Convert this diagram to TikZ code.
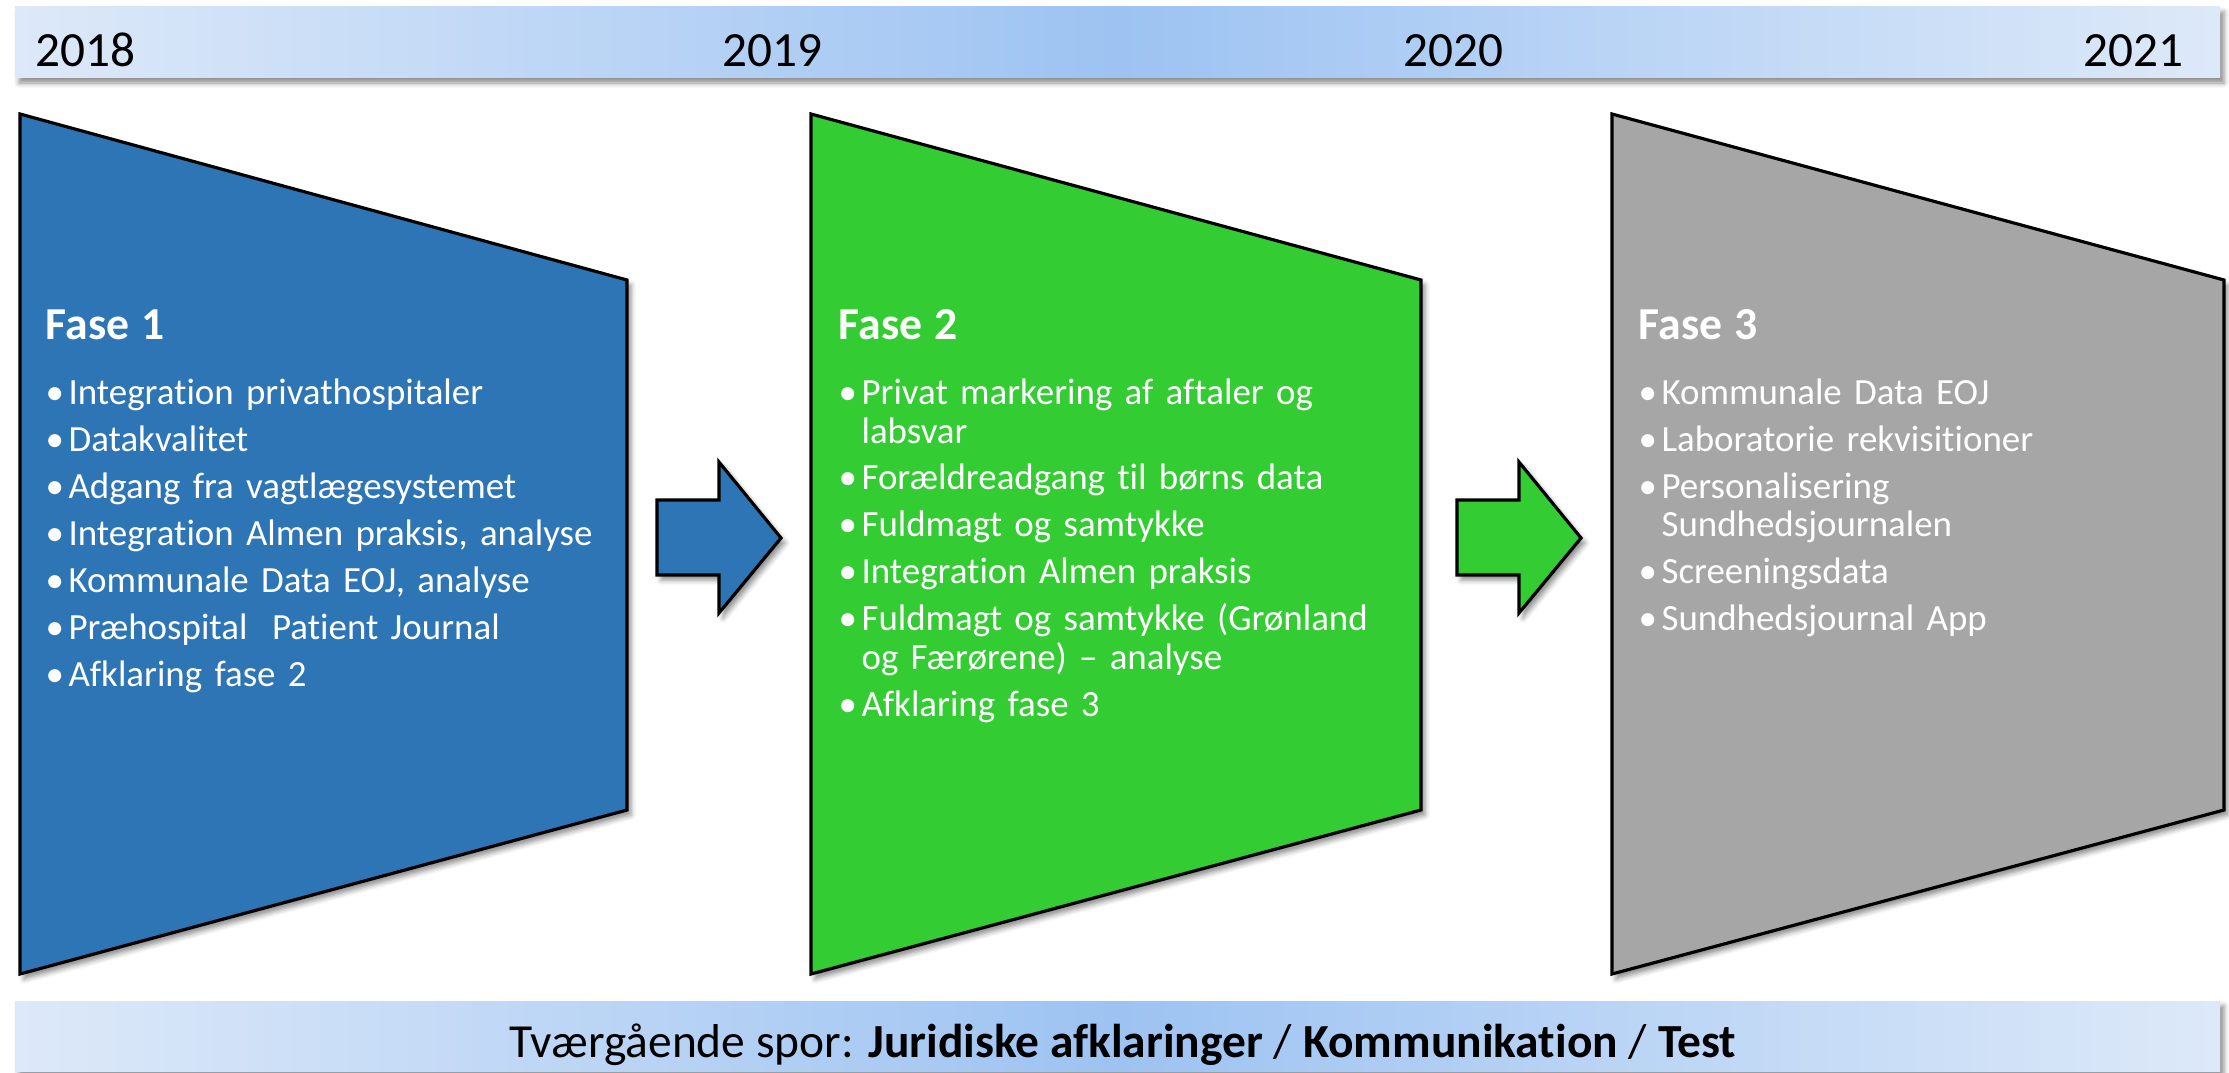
\documentclass[tikz,border=0pt]{standalone}
\usepackage{fontspec}
\setmainfont{Carlito}[Ligatures={TeX,NoCommon}]
\usepackage{xcolor}
\usetikzlibrary{shapes, arrows.meta, positioning, shadows.blur}

\definecolor{fasebla}{HTML}{2E75B6}
\definecolor{fasegron}{HTML}{33CC33}
\definecolor{fasegra}{HTML}{A6A6A6}
\definecolor{bjaelkelys}{HTML}{DDE9F9}
\definecolor{bjaelkemork}{HTML}{9DC3F2}

\newcommand{\punkt}[1]{\par\hangindent=6.5pt\hangafter=1\noindent\makebox[6.5pt][l]{\textbullet}#1}
\newcommand{\fasetitel}[1]{\setlength{\parskip}{2.4pt}{\fontsize{13}{15}\selectfont\bfseries #1\par}\vspace{5pt}}

\begin{document}
\begin{tikzpicture}[x=0.01cm, y=-0.01cm,
    skygge/.style={blur shadow={shadow xshift=0.04cm, shadow yshift=-0.05cm, shadow blur radius=0.05cm, shadow opacity=45}},
    fase/.style={draw=black, line width=0.9pt, line join=miter, skygge},
    pil/.style={draw=black, line width=0.9pt, line join=miter, skygge},
    bjaelke/.style={left color=bjaelkelys, right color=bjaelkelys, middle color=bjaelkemork, skygge},
    aar/.style={font=\fontsize{14}{17}\selectfont, anchor=base west, inner sep=0pt},
    tekst/.style={text=white, anchor=base west, text width=6cm, align=left, inner sep=0pt,
                  font=\fontsize{10.5}{10.95}\selectfont}]
    \useasboundingbox (0,0) rectangle (2229,1073);

    % tidslinje
    \path[bjaelke] (15,7) rectangle (2220,78);
    \node[aar] (aar2018) at (35,67) {2018};
    \node[aar] (aar2019) at (722,67) {2019};
    \node[aar] (aar2020) at (1403,67) {2020};
    \node[aar] (aar2021) at (2083,67) {2021};

    % faser
    \draw[fase, fill=fasebla] (20,114) -- (627,280) -- (627,810) -- (20,974) -- cycle;
    \draw[fase, fill=fasegron] (811,114) -- (1421,280) -- (1421,810) -- (811,974) -- cycle;
    \draw[fase, fill=fasegra] (1612,114) -- (2224,280) -- (2224,810) -- (1612,974) -- cycle;

    % pile
    \draw[pil, fill=fasebla] (657,500) -- (719,500) -- (719,462) -- (781,538) -- (719,613) -- (719,575) -- (657,575) -- cycle;
    \draw[pil, fill=fasegron] (1457,500) -- (1519,500) -- (1519,462) -- (1581,538) -- (1519,613) -- (1519,575) -- (1457,575) -- cycle;

    \node[tekst] (fase1) at (45,340) {\fasetitel{Fase 1}%
        \punkt{Integration privathospitaler}%
        \punkt{Datakvalitet}%
        \punkt{Adgang fra vagtlægesystemet}%
        \punkt{Integration Almen praksis, analyse}%
        \punkt{Kommunale Data EOJ, analyse}%
        \punkt{Præhospital~ Patient Journal}%
        \punkt{Afklaring fase 2}};
    \node[tekst] (fase2) at (838,340) {\fasetitel{Fase 2}%
        \punkt{Privat markering af aftaler og\newline labsvar}%
        \punkt{Forældreadgang til børns data}%
        \punkt{Fuldmagt og samtykke}%
        \punkt{Integration Almen praksis}%
        \punkt{Fuldmagt og samtykke (Grønland\newline og Færørene) – analyse}%
        \punkt{Afklaring fase 3}};
    \node[tekst] (fase3) at (1638,340) {\fasetitel{Fase 3}%
        \punkt{Kommunale Data EOJ}%
        \punkt{Laboratorie rekvisitioner}%
        \punkt{Personalisering\newline Sundhedsjournalen}%
        \punkt{Screeningsdata}%
        \punkt{Sundhedsjournal App}};

    % tværgående spor
    \path[bjaelke] (15,1001) rectangle (2220,1071);
    \node[font=\fontsize{13.5}{16}\selectfont, anchor=base, inner sep=0pt] (spor) at (1123,1057)
        {Tværgående spor: \textbf{Juridiske afklaringer} / \textbf{Kommunikation} / \textbf{Test}};
\end{tikzpicture}
\end{document}
